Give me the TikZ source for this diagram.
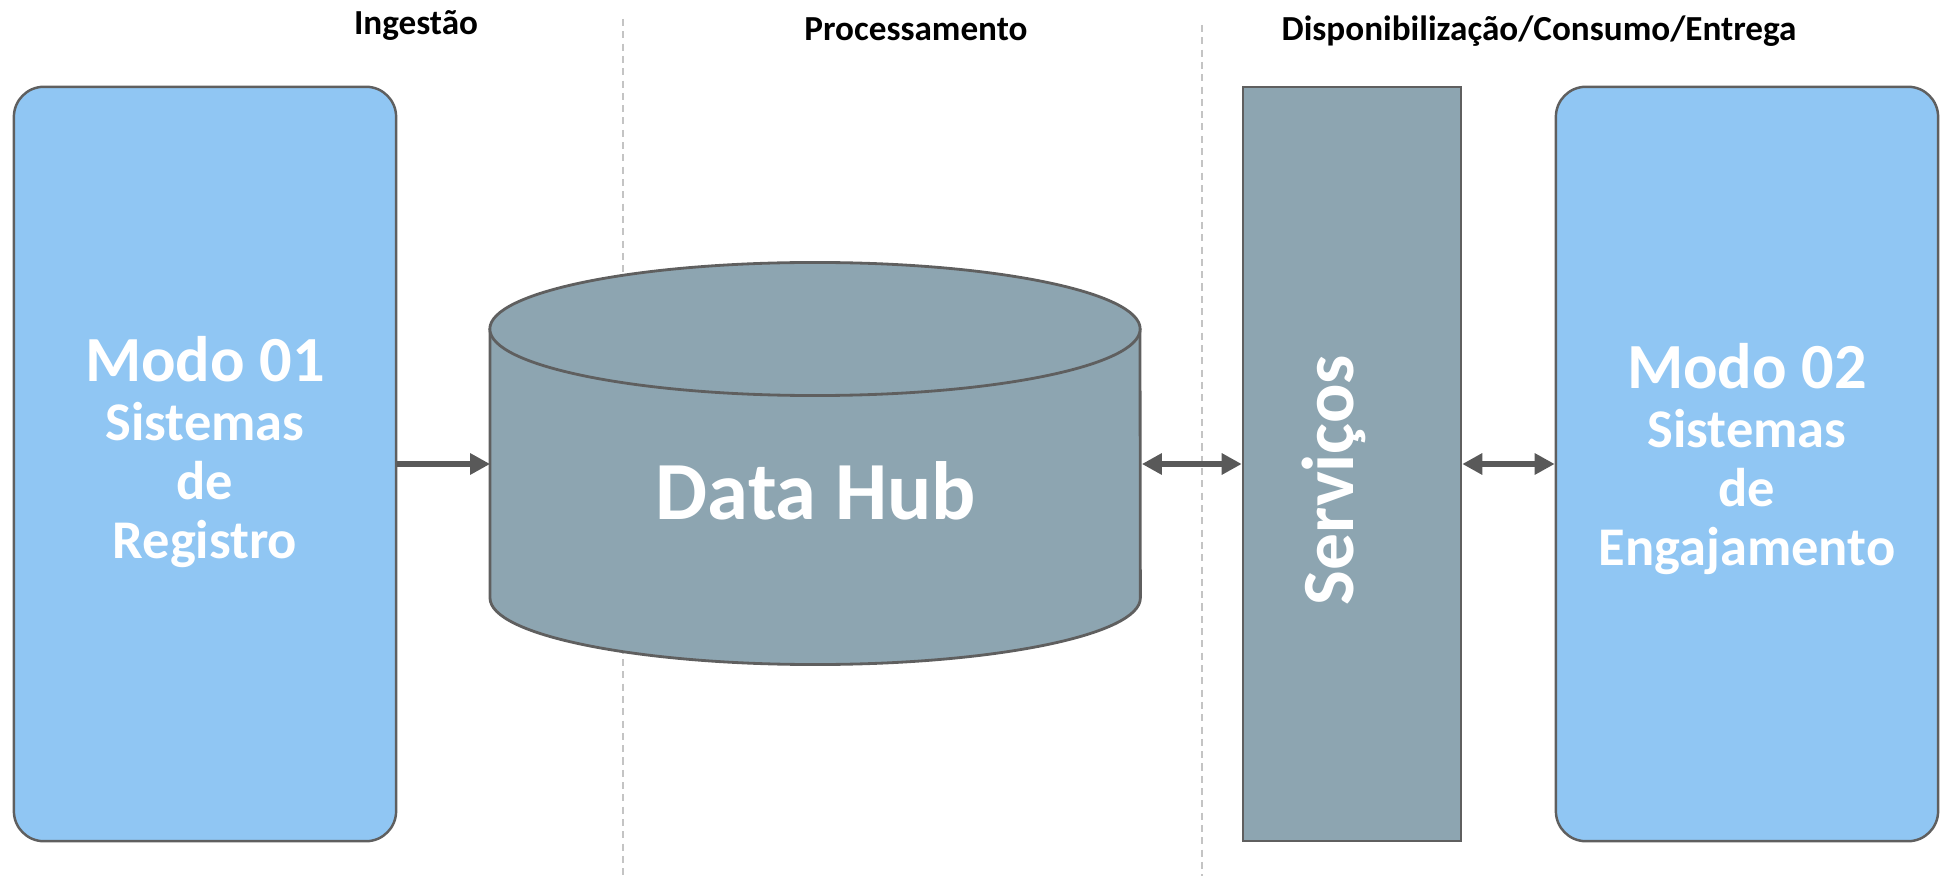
\documentclass[tikz,border=0pt]{standalone}
\usepackage{fontspec}
\setmainfont{Carlito}
\usetikzlibrary{arrows.meta}
\definecolor{modoblue}{HTML}{90C6F3}
\definecolor{hubgrey}{HTML}{8DA5B1}
\definecolor{edgegrey}{HTML}{5F5F5F}
\definecolor{arrowgrey}{HTML}{595959}
\definecolor{sepgrey}{HTML}{C4C4C4}

\begin{document}
\begin{tikzpicture}[x=0.01cm,y=0.01cm,
		modo/.style={draw=edgegrey,fill=modoblue,line width=0.7pt,rounded corners=0.3cm,minimum width=3.82cm,minimum height=7.54cm,inner sep=0pt},
		servbox/.style={draw=edgegrey,fill=hubgrey,line width=0.7pt,minimum width=2.18cm,minimum height=7.54cm,inner sep=0pt},
		head/.style={font=\fontsize{10}{12}\selectfont\bfseries,anchor=base,inner sep=0pt},
		modotext/.style={text=white,align=center,inner sep=0pt,font=\fontsize{15.5}{16.8}\selectfont\bfseries},
		flow/.style={draw=arrowgrey,line width=1.7pt,-{Triangle[length=5.7pt,width=5.8pt]}},
		both/.style={draw=arrowgrey,line width=1.7pt,{Triangle[length=5.7pt,width=5.8pt]}-{Triangle[length=5.7pt,width=5.8pt]}},
		sep/.style={draw=sepgrey,line width=0.3pt,dash pattern=on 2pt off 1.5pt}]
		\useasboundingbox (0,0) rectangle (1941,-876);
		\draw [sep] (623,-19) -- (623,-876);
		\draw [sep] (1202,-25) -- (1202,-876);
		\node [head] (ingest) at (416,-35) {Ingestão};
		\node [head] (proc) at (916,-41) {Processamento};
		\node [head] (entrega) at (1539,-41) {Disponibilização/Consumo/Entrega};
		\node [modo] (reg) at (205,-464) {};
		\node [modotext] (reglabel) at (205,-452) {{\fontsize{18.3}{16.8}\selectfont Modo 01}\\Sistemas\\de\\Registro};
		\fill [hubgrey] (490,-329) -- (490,-598) arc [start angle=180,end angle=360,x radius=3.25cm,y radius=0.665cm] -- (1140,-329) -- cycle;
		\draw [edgegrey,line width=0.8pt] (490,-329) -- (490,-598) arc [start angle=180,end angle=360,x radius=3.25cm,y radius=0.665cm] -- (1140,-329);
		\filldraw [fill=hubgrey,draw=edgegrey,line width=0.8pt] (815,-329) ellipse [x radius=3.25cm,y radius=0.665cm];
		\node [text=white,font=\fontsize{23.5}{28}\selectfont\bfseries,minimum width=6.5cm,inner sep=0pt] (hub) at (816,-491) {Data Hub};
		\node [servbox] (serv) at (1352,-464) {};
		\node [text=white,font=\fontsize{20.9}{25}\selectfont\bfseries,rotate=90,inner sep=0pt] (servlabel) at (1334,-480) {Serviços};
		\node [modo] (eng) at (1747,-464) {};
		\node [modotext] (englabel) at (1747,-459) {{\fontsize{18.3}{16.8}\selectfont Modo 02}\\Sistemas\\de\\Engajamento};
		\draw [flow] (reg.east) -- (reg.east -| hub.west);
		\draw [both] (hub.east |- serv.west) -- (serv.west);
		\draw [both] (serv.east) -- (eng.west);
	\end{tikzpicture}
\end{document}
